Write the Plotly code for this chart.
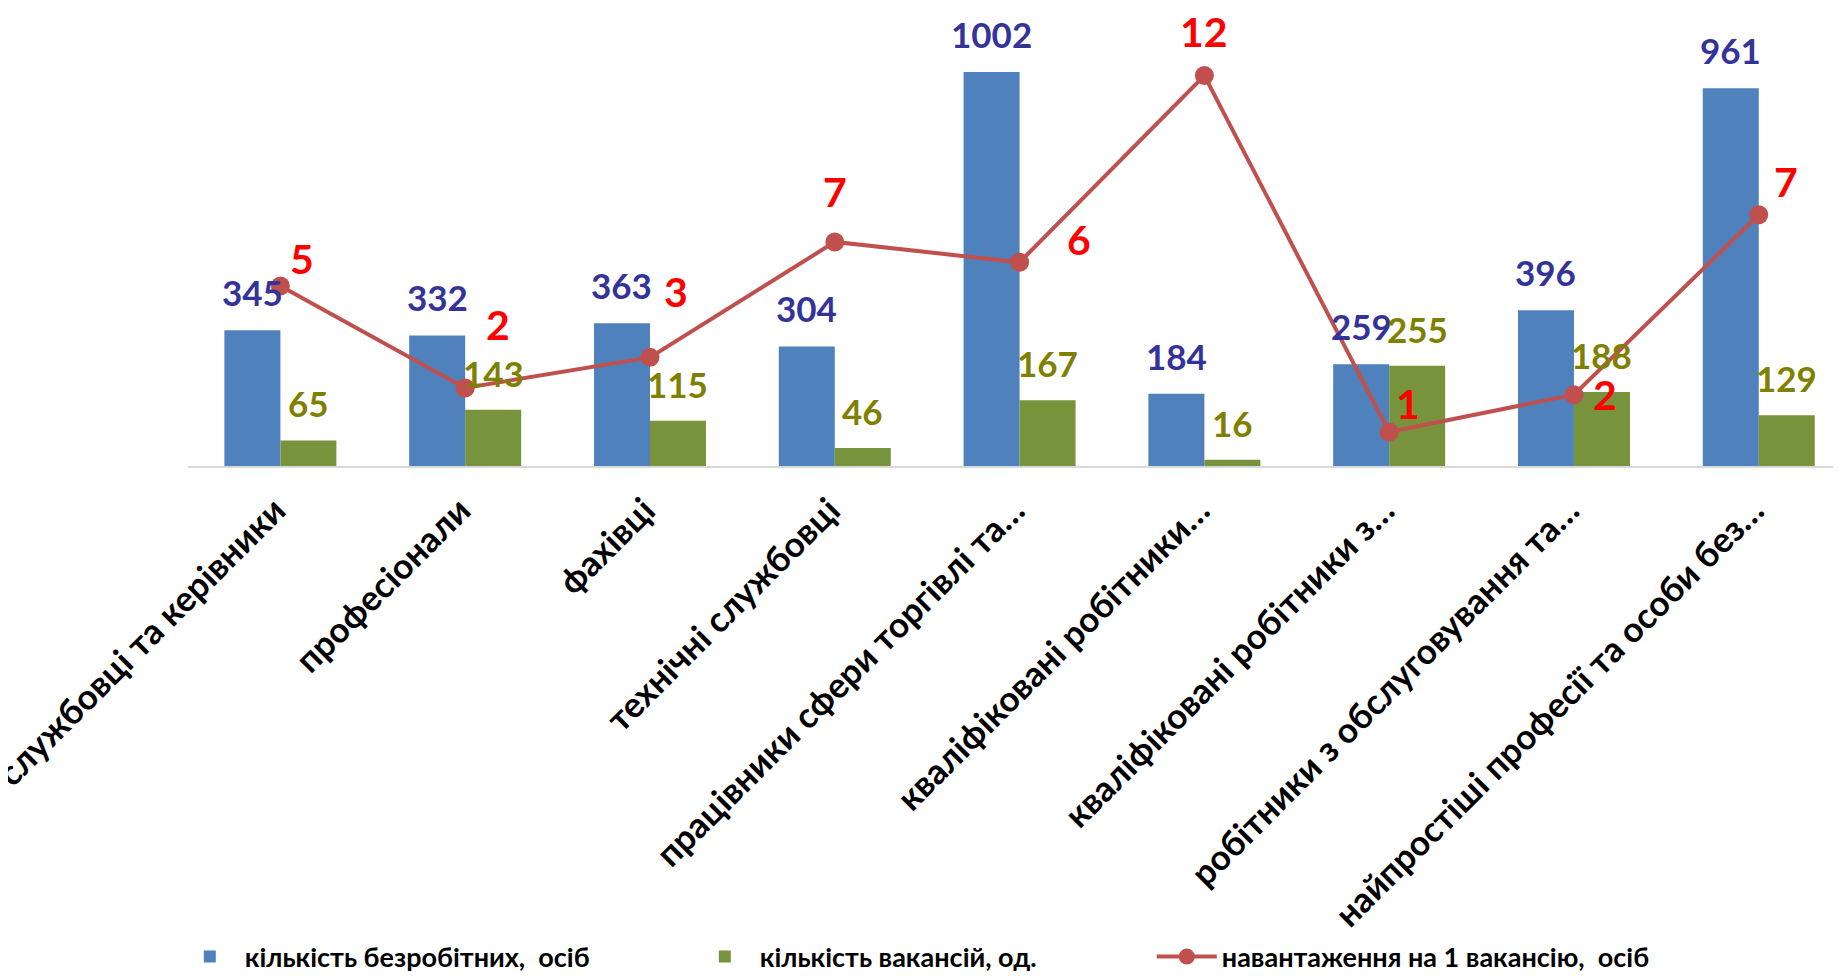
import plotly.graph_objects as go

categories = [
    "службовці та керівники",
    "професіонали",
    "фахівці",
    "технічні службовці",
    "працівники сфери торгівлі та…",
    "кваліфіковані робітники…",
    "кваліфіковані робітники з…",
    "робітники з обслуговування та…",
    "найпростіші професії та особи без…",
]
unemployed = [345, 332, 363, 304, 1002, 184, 259, 396, 961]
vacancies = [65, 143, 115, 46, 167, 16, 255, 188, 129]
load = [5.3, 2.3, 3.2, 6.6, 6.0, 11.5, 1.0, 2.1, 7.4]

names = ["кількість безробітних,  осіб", "кількість вакансій, од.", "навантаження на 1 вакансію,  осіб"]

# label offsets (px) for the line labels, as placed in the original
load_label_dx = [22, 33, 26, 0, 59, 0, 19, 31, 27]
load_label_dy = [28, 63, 66, 50, 23, 44, 29, 0, 33]

FONT = "Lato"
BLUE = "#4F81BD"
GREEN = "#77933C"
RED = "#C0504D"

W, H = 1833, 968
bargap = 0.394
bar_w = (1 - bargap) / 2
xs = list(range(len(categories)))

fig = go.Figure()
fig.add_trace(go.Bar(x=xs, y=unemployed, name=names[0], marker=dict(color=BLUE, line=dict(width=0))))
fig.add_trace(go.Bar(x=xs, y=vacancies, name=names[1], marker=dict(color=GREEN, line=dict(width=0))))
fig.add_trace(go.Scatter(x=xs, y=load, name=names[2], yaxis="y2", mode="lines+markers",
                         line=dict(color=RED, width=4), marker=dict(color=RED, size=19),
                         legend="legend2"))

ann = []
for i, v in enumerate(unemployed):
    ann.append(dict(x=i - bar_w / 2, y=v, xref="x", yref="y", text=str(v), showarrow=False,
                    xanchor="center", yanchor="middle", yshift=38,
                    font=dict(family=FONT, size=35, color="#333399", weight="bold")))
for i, v in enumerate(vacancies):
    ann.append(dict(x=i + bar_w / 2, y=v, xref="x", yref="y", text=str(v), showarrow=False,
                    xanchor="center", yanchor="middle", yshift=37,
                    font=dict(family=FONT, size=35, color="#808000", weight="bold")))
for i, v in enumerate(load):
    ann.append(dict(x=i, y=v, xref="x", yref="y2", text=f"{v:.0f}", showarrow=False,
                    xanchor="center", yanchor="middle", borderpad=0,
                    xshift=load_label_dx[i], yshift=load_label_dy[i],
                    font=dict(family=FONT, size=41, color="#FF0000", weight="bold")))

legend_font = dict(family=FONT, size=27, color="black", weight="bold")

fig.update_layout(
    width=W, height=H,
    margin=dict(l=180, r=0, t=0, b=510),
    paper_bgcolor="white", plot_bgcolor="white",
    barmode="group", bargap=bargap, bargroupgap=0,
    font=dict(family=FONT),
    annotations=ann,
    xaxis=dict(
        range=[-0.5, 8.445], tickmode="array", tickvals=xs, ticktext=categories,
        tickangle=-45, showgrid=False, zeroline=False, showline=True,
        linecolor="#D9D9D9", linewidth=2, ticks="",
        tickfont=dict(family=FONT, size=35, color="black", weight="bold"),
        automargin=False, ticklabeloverflow="allow",
        ticklabelstandoff=8, ticklabelshift=-5,
    ),
    yaxis=dict(range=[0, 1165], visible=False, showgrid=False, zeroline=False),
    yaxis2=dict(range=[0, 13.49], overlaying="y", side="right", visible=False,
                showgrid=False, zeroline=False),
    showlegend=True,
    legend=dict(orientation="h", x=0.091, y=0.0196, xref="container", yref="container",
                xanchor="left", yanchor="middle", font=legend_font,
                bgcolor="rgba(0,0,0,0)",
                itemwidth=60, traceorder="normal",
                entrywidth=440, entrywidthmode="pixels"),
    legend2=dict(orientation="h", x=0.624, y=0.0196, xref="container", yref="container",
                 xanchor="left", yanchor="middle", font=legend_font,
                 bgcolor="rgba(0,0,0,0)", itemwidth=60),
)

fig.write_html("out.html")
